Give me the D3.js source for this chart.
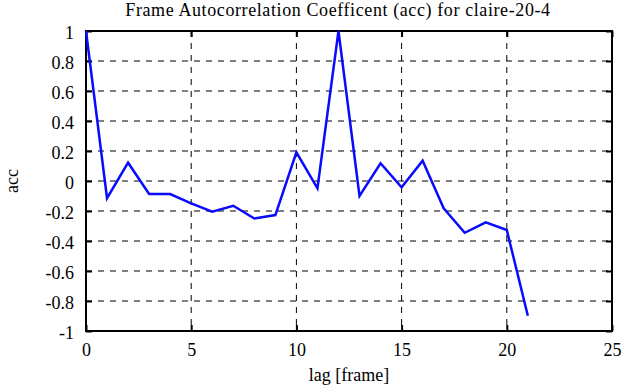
<!DOCTYPE html>
<html>
<head>
<meta charset="utf-8">
<script src="https://cdn.jsdelivr.net/npm/d3@7/dist/d3.min.js"></script>
<style>
body { margin: 0; background: #fff; }
svg { display: block; }
text { font-family: "Liberation Serif", "DejaVu Serif", serif; fill: #000; }
</style>
</head>
<body>
<script>
// lag values and autocorrelation
var lags = [0,1,2,3,4,5,6,7,8,9,10,11,12,13,14,15,16,17,18,19,20,21];
var acc = [1.0,-0.115,0.122,-0.087,-0.087,-0.149,-0.204,-0.165,-0.25,-0.227,0.191,-0.049,
	1.0,-0.1,0.118,-0.042,0.135,-0.182,-0.345,-0.276,-0.327,-0.898];
var xTicks = [0,5,10,15,20,25];
var yTicks = [-1,-0.8,-0.6,-0.4,-0.2,0,0.2,0.4,0.6,0.8,1];

var W = 630, H = 387;
var mLeft = 86, mRight = 612, mTop = 31, mBottom = 331;

var svg = d3.select("body").append("svg")
	.attr("width", W)
	.attr("height", H);

var x = d3.scaleLinear().domain([0,25]).range([mLeft, mRight]);
var y = d3.scaleLinear().domain([-1,1]).range([mBottom, mTop]);

// grid
var grid = svg.append("g");
grid.selectAll(".gx")
	.data(xTicks.filter(function(d){ return d > 0 && d < 25; }))
	.enter().append("line")
	.attr("x1", function(d){ return x(d); })
	.attr("x2", function(d){ return x(d); })
	.attr("y1", mTop).attr("y2", mBottom)
	.attr("stroke", "#000").attr("stroke-width", 1)
	.attr("stroke-dasharray", "6,6");
grid.selectAll(".gy")
	.data(yTicks.filter(function(d){ return d > -1 && d < 1; }))
	.enter().append("line")
	.attr("x1", mLeft).attr("x2", mRight)
	.attr("y1", function(d){ return y(d); })
	.attr("y2", function(d){ return y(d); })
	.attr("stroke", "#000").attr("stroke-width", 1)
	.attr("stroke-dasharray", "6,6");

// axes with inward ticks on all sides
var ax = [
	svg.append("g").attr("transform", "translate(0," + mBottom + ")")
		.call(d3.axisBottom(x).tickValues(xTicks).tickSize(-6).tickPadding(12)),
	svg.append("g").attr("transform", "translate(0," + mTop + ")")
		.call(d3.axisTop(x).tickValues(xTicks).tickSize(-6).tickFormat("")),
	svg.append("g").attr("transform", "translate(" + mLeft + ",0)")
		.call(d3.axisLeft(y).tickValues(yTicks).tickSize(-6).tickPadding(12)
			.tickFormat(function(d){ return String(d); })),
	svg.append("g").attr("transform", "translate(" + mRight + ",0)")
		.call(d3.axisRight(y).tickValues(yTicks).tickSize(-6).tickFormat(""))
];
ax.forEach(function(g){
	g.select(".domain").remove();
	g.selectAll(".tick line").attr("stroke", "#000").attr("stroke-width", 2);
	g.selectAll("text").style("font-size", "18px").attr("font-family", null);
});
ax[2].selectAll("text").attr("dy", "0.4em");

// frame
svg.append("rect")
	.attr("x", mLeft).attr("y", mTop)
	.attr("width", mRight - mLeft).attr("height", mBottom - mTop)
	.attr("fill", "none").attr("stroke", "#000").attr("stroke-width", 2);

// data line
var line = d3.line()
	.x(function(d, i){ return x(lags[i]); })
	.y(function(d){ return y(d); });
svg.append("path")
	.datum(acc)
	.attr("d", line)
	.attr("fill", "none")
	.attr("stroke", "#0a0aff")
	.attr("stroke-width", 2.5);

// labels
svg.append("text")
	.attr("x", 338).attr("y", 16)
	.attr("text-anchor", "middle")
	.style("font-size", "18px")
	.style("letter-spacing", "0.6px")
	.text("Frame Autocorrelation Coefficent (acc) for claire-20-4");
svg.append("text")
	.attr("x", 349).attr("y", 381)
	.attr("text-anchor", "middle")
	.style("font-size", "18px")
	.text("lag [frame]");
svg.append("text")
	.attr("transform", "translate(18,181) rotate(-90)")
	.attr("text-anchor", "middle")
	.style("font-size", "18px")
	.text("acc");
</script>
</body>
</html>
